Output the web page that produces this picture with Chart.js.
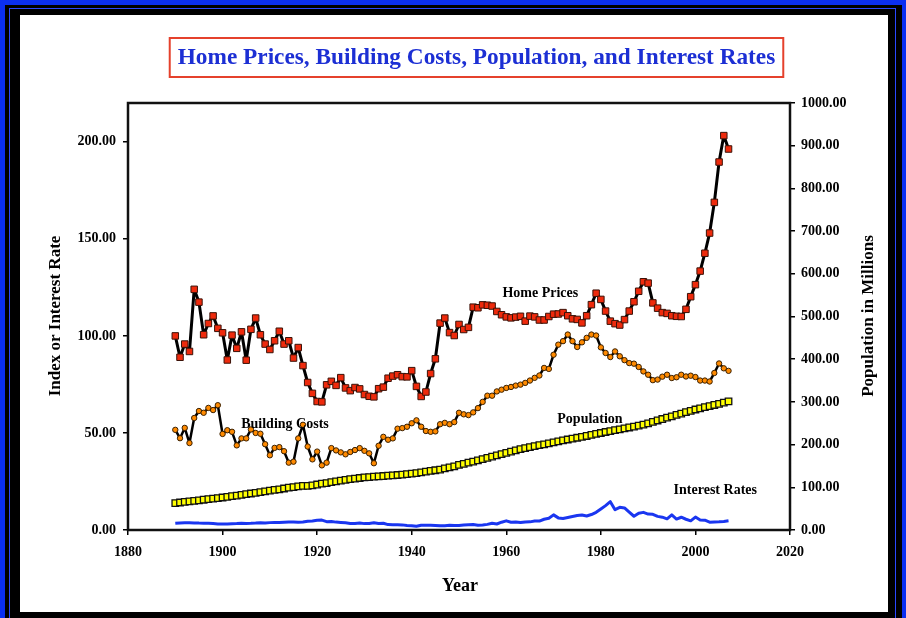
<!DOCTYPE html>
<html>
<head>
<meta charset="utf-8">
<script src="https://cdn.jsdelivr.net/npm/chart.js@4.4.0/dist/chart.umd.min.js"></script>
<style>
  html, body { margin: 0; padding: 0; }
  body { width: 906px; height: 618px; background: #0b2ff2; position: relative; overflow: hidden; }
  #frame { position: absolute; left: 5px; top: 5px; width: 897px; height: 613px; background: #000; }
  #frame2 { position: absolute; left: 9px; top: 8px; width: 887px; height: 612px; border: 1px solid #2a48ff; box-sizing: border-box; }
  #paper { position: absolute; left: 20px; top: 15px; width: 868px; height: 597px; background: #fff; }
  #chart { position: absolute; left: 0; top: 0; }
</style>
</head>
<body>
<div id="frame"></div>
<div id="frame2"></div>
<div id="paper"></div>
<canvas id="chart" width="906" height="618"></canvas>
<script>
// annual data 1890 - 2007
const firstYear = 1890;

const homePrices = [
  100.0, 89.0, 95.8, 92.0, 124.0, 117.4, 100.6, 106.4, 110.3, 103.9,
  101.6, 87.6, 100.4, 93.6, 102.1, 87.5, 103.4, 109.2, 100.6, 95.8,
  93.0, 97.5, 102.4, 95.8, 97.5, 88.6, 94.0, 84.7, 76.0, 70.4,
  66.2, 66.0, 74.8, 76.6, 74.5, 78.5, 73.2, 71.8, 73.4, 72.7,
  69.8, 68.9, 68.6, 72.8, 73.6, 78.2, 79.3, 80.0, 79.0, 78.9,
  82.1, 74.0, 68.8, 71.1, 80.6, 88.2, 106.6, 109.2, 101.7, 100.2,
  105.9, 103.3, 104.4, 114.8, 114.5, 116.0, 115.8, 115.4, 112.6, 110.9,
  109.8, 109.3, 109.7, 110.1, 107.6, 110.2, 109.8, 108.2, 108.2, 110.0,
  111.2, 111.3, 112.0, 110.4, 108.8, 108.5, 106.7, 110.4, 116.1, 122.0,
  118.8, 112.8, 107.6, 106.3, 105.6, 108.4, 112.8, 117.6, 123.0, 127.9,
  127.2, 117.0, 114.3, 112.0, 111.6, 110.4, 110.1, 110.0, 113.7, 120.2,
  126.4, 133.4, 142.6, 153.0, 168.8, 189.6, 203.2, 196.3
];

const buildingCosts = [
  51.6, 47.3, 52.6, 44.8, 57.7, 61.3, 60.4, 62.9, 61.8, 64.3,
  49.5, 51.4, 50.6, 43.6, 47.2, 47.2, 51.8, 50.0, 49.6, 44.2,
  38.5, 42.3, 42.7, 40.6, 34.7, 35.2, 47.2, 54.2, 43.0, 36.4,
  40.4, 33.3, 34.7, 42.2, 41.0, 40.0, 39.0, 40.2, 41.2, 42.2,
  40.8, 39.5, 34.4, 43.4, 48.0, 46.5, 47.2, 52.2, 52.5, 53.2,
  55.0, 56.5, 53.2, 51.0, 50.6, 50.8, 54.5, 55.2, 54.5, 55.6,
  60.4, 59.6, 59.2, 60.6, 62.8, 66.0, 69.2, 69.2, 71.4, 72.3,
  73.2, 73.7, 74.4, 74.9, 75.8, 77.0, 78.4, 79.6, 83.5, 83.0,
  90.3, 95.5, 97.3, 100.7, 97.3, 94.3, 96.7, 99.0, 100.7, 100.2,
  94.1, 91.2, 89.1, 92.0, 89.5, 87.5, 86.0, 85.7, 84.0, 81.7,
  80.0, 77.2, 77.5, 79.0, 80.0, 78.3, 78.7, 80.0, 79.1, 79.5,
  78.8, 77.0, 77.0, 76.5, 80.9, 85.8, 83.3, 82.0
];

// millions, right axis
const population = [
  62.9, 64.4, 65.7, 67.0, 68.3, 69.6, 70.9, 72.2, 73.5, 74.8,
  76.1, 77.6, 79.2, 80.6, 82.2, 83.8, 85.5, 87.0, 88.7, 90.5,
  92.4, 93.9, 95.3, 97.2, 99.1, 100.5, 102.0, 103.3, 103.2, 104.5,
  106.5, 108.5, 110.0, 111.9, 114.1, 115.8, 117.4, 119.0, 120.5, 121.8,
  123.1, 124.0, 124.8, 125.6, 126.4, 127.3, 128.1, 128.8, 129.8, 130.9,
  132.1, 133.4, 134.9, 136.7, 138.4, 139.9, 141.4, 144.1, 146.6, 149.2,
  152.3, 154.9, 157.6, 160.2, 163.0, 165.9, 168.9, 172.0, 174.9, 177.8,
  180.7, 183.7, 186.5, 189.2, 191.9, 194.3, 196.6, 198.7, 200.7, 202.7,
  205.1, 207.7, 209.9, 211.9, 213.9, 216.0, 218.0, 220.2, 222.6, 225.1,
  227.2, 229.5, 231.7, 233.8, 235.8, 237.9, 240.1, 242.3, 244.5, 246.8,
  249.6, 253.0, 256.5, 259.9, 263.1, 266.3, 269.4, 272.6, 275.9, 279.0,
  282.2, 285.0, 287.6, 290.1, 292.8, 295.5, 298.4, 301.2
];

const interestRates = [
  3.42, 3.62, 3.68, 3.70, 3.66, 3.55, 3.52, 3.42, 3.29, 3.04,
  3.15, 3.10, 3.21, 3.30, 3.45, 3.41, 3.45, 3.58, 3.79, 3.58,
  3.80, 3.90, 3.90, 4.00, 4.10, 4.10, 4.00, 4.10, 4.50, 4.60,
  4.97, 5.09, 4.30, 4.36, 4.06, 3.86, 3.68, 3.34, 3.33, 3.60,
  3.29, 3.34, 3.68, 3.31, 3.50, 2.79, 2.69, 2.65, 2.64, 2.36,
  2.21, 1.95, 2.46, 2.47, 2.48, 2.37, 2.19, 2.25, 2.44, 2.31,
  2.32, 2.57, 2.68, 2.83, 2.48, 2.61, 2.90, 3.46, 3.09, 4.02,
  4.72, 4.02, 4.08, 3.83, 4.17, 4.19, 4.61, 4.58, 5.53, 6.04,
  7.79, 6.24, 5.95, 6.46, 6.99, 7.50, 7.74, 7.21, 7.96, 9.10,
  10.80, 12.57, 14.59, 10.46, 11.67, 11.38, 9.19, 7.08, 8.67, 9.09,
  8.21, 8.09, 7.03, 6.60, 5.75, 7.78, 5.65, 6.58, 5.54, 4.72,
  6.66, 5.16, 5.04, 4.05, 4.15, 4.22, 4.42, 4.76
];

const xTicks = [1880, 1900, 1920, 1940, 1960, 1980, 2000, 2020];
const leftTicks = [0, 50, 100, 150, 200];
const rightTicks = [0, 100, 200, 300, 400, 500, 600, 700, 800, 900, 1000];

const titleText = 'Home Prices, Building Costs, Population, and Interest Rates';
// series name, year, value, axis
const seriesLabels = [
  ['Home Prices', 1967.2, 121.8, 'y'],
  ['Building Costs', 1913.2, 54.2, 'y'],
  ['Population', 1977.7, 56.8, 'y'],
  ['Interest Rates', 2004.2, 20.6, 'y']
];

const years = homePrices.map((v, i) => firstYear + i);
const pts = arr => arr.map((v, i) => ({ x: years[i], y: v }));

const serif = '"Liberation Serif", "Times New Roman", serif';
const tickFont = { family: serif, size: 14, weight: 'bold' };

const decor = {
  id: 'decor',
  beforeDatasetsDraw(c) {
    const { ctx, chartArea: a } = c;
    ctx.save();
    ctx.strokeStyle = '#111';
    ctx.lineWidth = 2.5;
    ctx.strokeRect(a.left, a.top, a.right - a.left, a.bottom - a.top);
    ctx.restore();
  },
  afterDraw(c) {
    const { ctx } = c;
    ctx.save();
    // title box
    ctx.font = 'bold 23.3px ' + serif;
    const w = ctx.measureText(titleText).width;
    const cx = 476.5;
    ctx.fillStyle = '#fff';
    ctx.fillRect(cx - w / 2 - 8, 38, w + 16, 39);
    ctx.strokeStyle = '#e5412c';
    ctx.lineWidth = 2;
    ctx.strokeRect(cx - w / 2 - 8, 38, w + 16, 39);
    ctx.fillStyle = '#1c2fd4';
    ctx.textAlign = 'center';
    ctx.textBaseline = 'middle';
    ctx.fillText(titleText, cx, 58);

    // axis titles
    ctx.fillStyle = '#000';
    ctx.font = 'bold 17px ' + serif;
    ctx.save();
    ctx.translate(56, 316);
    ctx.rotate(-Math.PI / 2);
    ctx.fillText('Index or Interest Rate', 0, 0);
    ctx.restore();
    ctx.save();
    ctx.translate(869, 316);
    ctx.rotate(-Math.PI / 2);
    ctx.fillText('Population in Millions', 0, 0);
    ctx.restore();
    ctx.font = 'bold 18px ' + serif;
    ctx.fillText('Year', 460, 586);

    // series labels
    ctx.font = 'bold 14px ' + serif;
    seriesLabels.forEach(([t, yr, v, ax]) => {
      ctx.fillText(t, c.scales.x.getPixelForValue(yr), c.scales[ax].getPixelForValue(v));
    });
    ctx.restore();
  }
};

const tickGrid = { drawOnChartArea: false, drawTicks: true, tickLength: 5, color: '#000', lineWidth: 1.5 };

new Chart(document.getElementById('chart'), {
  type: 'line',
  data: {
    datasets: [
      {
        label: 'Home Prices',
        data: pts(homePrices),
        yAxisID: 'y',
        borderColor: '#000',
        borderWidth: 3,
        borderJoinStyle: 'round',
        pointStyle: 'rect',
        pointRadius: 4.6,
        pointBackgroundColor: '#ee2a0c',
        pointBorderColor: '#3a1208',
        pointBorderWidth: 1,
        tension: 0
      },
      {
        label: 'Building Costs',
        data: pts(buildingCosts),
        yAxisID: 'y',
        borderColor: '#000',
        borderWidth: 2.5,
        borderJoinStyle: 'round',
        pointStyle: 'circle',
        pointRadius: 2.7,
        pointBackgroundColor: '#ff8a00',
        pointBorderColor: '#3a2000',
        pointBorderWidth: 1,
        tension: 0
      },
      {
        label: 'Population',
        data: pts(population),
        yAxisID: 'yR',
        showLine: false,
        pointStyle: 'rect',
        pointRadius: 4.6,
        pointBackgroundColor: '#ffff00',
        pointBorderColor: '#111',
        pointBorderWidth: 1.3
      },
      {
        label: 'Interest Rates',
        data: pts(interestRates),
        yAxisID: 'y',
        borderColor: '#1a36f0',
        borderWidth: 3,
        borderJoinStyle: 'round',
        pointRadius: 0,
        tension: 0
      }
    ]
  },
  options: {
    responsive: false,
    animation: false,
    devicePixelRatio: 1,
    layout: { padding: { top: 103, left: 0, right: 0, bottom: 0 } },
    plugins: {
      legend: { display: false },
      title: { display: false },
      tooltip: { enabled: false }
    },
    scales: {
      x: {
        type: 'linear',
        min: 1880,
        max: 2020,
        afterBuildTicks: s => { s.ticks = xTicks.map(v => ({ value: v })); },
        afterFit: s => { s.height = 88; },
        ticks: { callback: v => String(v), color: '#000', font: tickFont, padding: 9, maxRotation: 0, autoSkip: false },
        grid: tickGrid,
        border: { display: false }
      },
      y: {
        position: 'left',
        min: 0,
        max: 220,
        afterBuildTicks: s => { s.ticks = leftTicks.map(v => ({ value: v })); },
        afterFit: s => { s.width = 128; },
        ticks: { callback: v => v.toFixed(2), color: '#000', font: tickFont, padding: 7 },
        grid: tickGrid,
        border: { display: false }
      },
      yR: {
        position: 'right',
        min: 0,
        max: 1000,
        afterBuildTicks: s => { s.ticks = rightTicks.map(v => ({ value: v })); },
        afterFit: s => { s.width = 116; },
        ticks: { callback: v => v.toFixed(2), color: '#000', font: tickFont, padding: 6 },
        grid: tickGrid,
        border: { display: false }
      }
    }
  },
  plugins: [decor]
});
</script>
</body>
</html>
